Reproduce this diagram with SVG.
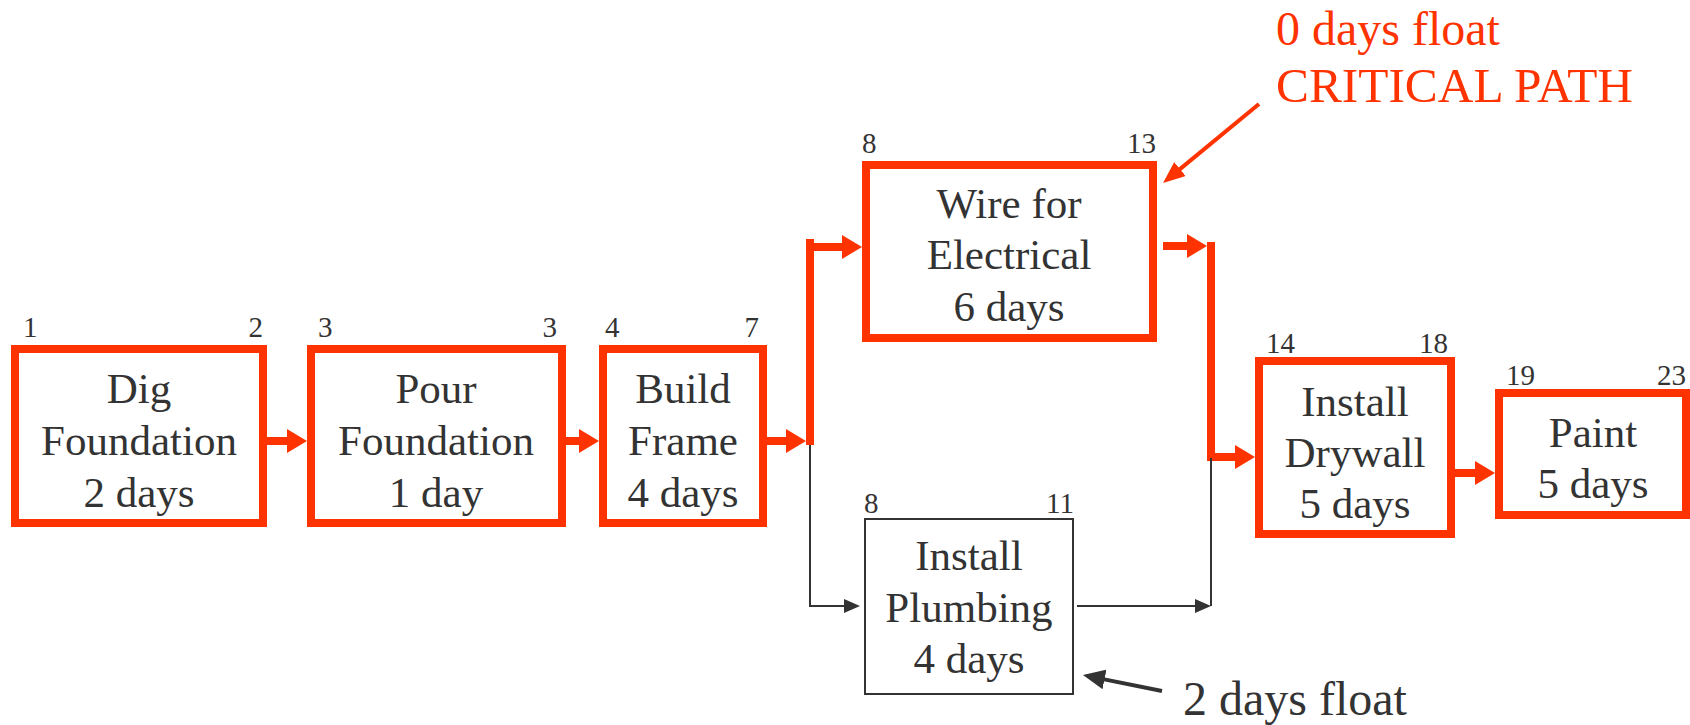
<svg xmlns="http://www.w3.org/2000/svg" width="1690" height="725" viewBox="0 0 1690 725">
<style>
.crit{fill:#fff;stroke:#ff3300;stroke-width:8}
.norm{fill:#fff;stroke:#333;stroke-width:2}
.t{font-size:43px;fill:#333;text-anchor:middle}
.n{font-size:29px;fill:#333}
.ne{text-anchor:end}
.red{stroke:#ff3300;stroke-width:8;fill:none}
.thin{stroke:#333;stroke-width:2;fill:none}
.note{font-size:48px}
</style>
<defs>
<marker id="ah" markerUnits="userSpaceOnUse" viewBox="0 0 20 24" refX="4" refY="12" markerWidth="20" markerHeight="24" orient="auto"><path d="M0,0 L20,12 L0,24 z" fill="#ff3300"/></marker>
<marker id="ahs" markerUnits="userSpaceOnUse" viewBox="0 0 16 14" refX="2" refY="7" markerWidth="16" markerHeight="14" orient="auto"><path d="M0,0 L16,7 L0,14 z" fill="#333"/></marker>
<marker id="ahr" markerUnits="userSpaceOnUse" viewBox="0 0 22 18" refX="4" refY="9" markerWidth="22" markerHeight="18" orient="auto"><path d="M0,0 L22,9 L0,18 z" fill="#ff3300"/></marker>
<marker id="ahd" markerUnits="userSpaceOnUse" viewBox="0 0 22 20" refX="4" refY="10" markerWidth="22" markerHeight="20" orient="auto"><path d="M0,0 L22,10 L0,20 z" fill="#333"/></marker>
</defs>
<g id="connectors">
<line class="red" x1="267" y1="441" x2="291" y2="441" marker-end="url(#ah)"/>
<line class="red" x1="566" y1="441" x2="583" y2="441" marker-end="url(#ah)"/>
<line class="red" x1="767" y1="441" x2="790" y2="441" marker-end="url(#ah)"/>
<line class="red" x1="810" y1="239" x2="810" y2="445"/>
<line class="red" x1="810" y1="247" x2="846" y2="247" marker-end="url(#ah)"/>
<line class="red" x1="1163" y1="246" x2="1191" y2="246" marker-end="url(#ah)"/>
<line class="red" x1="1211" y1="242" x2="1211" y2="461"/>
<line class="red" x1="1211" y1="457" x2="1239" y2="457" marker-end="url(#ah)"/>
<line class="red" x1="1455" y1="473" x2="1479" y2="473" marker-end="url(#ah)"/>
<polyline class="thin" points="810,445 810,606 846,606" marker-end="url(#ahs)"/>
<line class="thin" x1="1077" y1="606" x2="1197" y2="606" marker-end="url(#ahs)"/>
<line class="thin" x1="1211" y1="458" x2="1211" y2="606"/>
</g>
<g font-family="'Liberation Serif', 'Times New Roman', serif">
<g id="dig">
<rect class="crit" x="15" y="349" width="248" height="174"/>
<text class="n" x="23" y="337">1</text><text class="n ne" x="263" y="337">2</text>
<text class="t" x="139" y="403">Dig</text><text class="t" x="139" y="455">Foundation</text><text class="t" x="139" y="507">2 days</text>
</g>
<g id="pour">
<rect class="crit" x="311" y="349" width="251" height="174"/>
<text class="n" x="318" y="337">3</text><text class="n ne" x="557" y="337">3</text>
<text class="t" x="436" y="403">Pour</text><text class="t" x="436" y="455">Foundation</text><text class="t" x="436" y="507">1 day</text>
</g>
<g id="build">
<rect class="crit" x="603" y="349" width="160" height="174"/>
<text class="n" x="605" y="337">4</text><text class="n ne" x="759" y="337">7</text>
<text class="t" x="683" y="403">Build</text><text class="t" x="683" y="455">Frame</text><text class="t" x="683" y="507">4 days</text>
</g>
<g id="wire">
<rect class="crit" x="866" y="165" width="287" height="173"/>
<text class="n" x="862" y="153">8</text><text class="n ne" x="1156" y="153">13</text>
<text class="t" x="1009" y="218">Wire for</text><text class="t" x="1009" y="269">Electrical</text><text class="t" x="1009" y="321">6 days</text>
</g>
<g id="plumbing">
<rect class="norm" x="865" y="519" width="208" height="175"/>
<text class="n" x="864" y="513">8</text><text class="n ne" x="1074" y="513">11</text>
<text class="t" x="969" y="570">Install</text><text class="t" x="969" y="622">Plumbing</text><text class="t" x="969" y="673">4 days</text>
</g>
<g id="drywall">
<rect class="crit" x="1259" y="361" width="192" height="173"/>
<text class="n" x="1266" y="353">14</text><text class="n ne" x="1448" y="353">18</text>
<text class="t" x="1355" y="416">Install</text><text class="t" x="1355" y="467">Drywall</text><text class="t" x="1355" y="518">5 days</text>
</g>
<g id="paint">
<rect class="crit" x="1499" y="393" width="187" height="122"/>
<text class="n" x="1506" y="385">19</text><text class="n ne" x="1686" y="385">23</text>
<text class="t" x="1593" y="447">Paint</text><text class="t" x="1593" y="498">5 days</text>
</g>
<g id="critical-note">
<line x1="1259" y1="104" x2="1176.9" y2="171.6" stroke="#ff3300" stroke-width="4" marker-end="url(#ahr)"/>
<text class="note" x="1276" y="45" fill="#ff3300">0 days float</text>
<text class="note" x="1276" y="102" fill="#ff3300" textLength="357" lengthAdjust="spacingAndGlyphs">CRITICAL PATH</text>
</g>
<g id="float-note">
<line x1="1162" y1="691" x2="1100.6" y2="678.6" stroke="#333" stroke-width="4" marker-end="url(#ahd)"/>
<text class="note" x="1183" y="715" fill="#333">2 days float</text>
</g>
</g>
</svg>
